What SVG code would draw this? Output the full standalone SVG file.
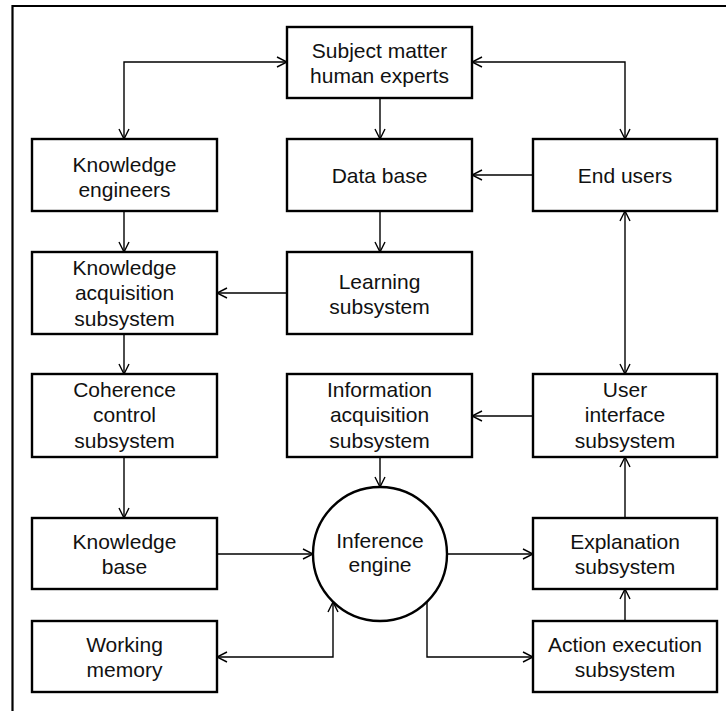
<svg xmlns="http://www.w3.org/2000/svg" width="726" height="711" viewBox="0 0 726 711">
  <style>
    .box { fill: #ffffff; stroke: #000000; stroke-width: 2.4; }
    .lbl { font-family: "Liberation Sans", Arial, Helvetica, sans-serif; font-size: 21px; fill: #111111; text-anchor: middle; }
    .wire { fill: none; stroke: #000000; stroke-width: 1.4; }
    .frame { fill: none; stroke: #000000; stroke-width: 2.2; }
  </style>
  <defs>
    <marker id="arrow" viewBox="0 0 12 12" refX="11" refY="6" markerWidth="12" markerHeight="12" markerUnits="userSpaceOnUse" orient="auto-start-reverse">
      <path d="M1,1 L11,6 L1,11" fill="none" stroke="#000000" stroke-width="1.4"/>
    </marker>
  </defs>
  <rect width="726" height="711" fill="#ffffff"/>

  <!-- outer frame (top and left edges) -->
  <path class="frame" d="M12.5,711 V6 H726"/>

  <!-- connectors -->
  <g id="connectors">
    <path class="wire" d="M287,62 H124 V139" marker-start="url(#arrow)" marker-end="url(#arrow)"/>
    <path class="wire" d="M472,62 H625 V139" marker-start="url(#arrow)" marker-end="url(#arrow)"/>
    <path class="wire" d="M380,98 V139" marker-end="url(#arrow)"/>
    <path class="wire" d="M533,175 H472" marker-end="url(#arrow)"/>
    <path class="wire" d="M124,211 V252" marker-end="url(#arrow)"/>
    <path class="wire" d="M380,211 V252" marker-end="url(#arrow)"/>
    <path class="wire" d="M287,293 H217" marker-end="url(#arrow)"/>
    <path class="wire" d="M625,211 V374" marker-start="url(#arrow)" marker-end="url(#arrow)"/>
    <path class="wire" d="M124,334 V374" marker-end="url(#arrow)"/>
    <path class="wire" d="M533,416 H472" marker-end="url(#arrow)"/>
    <path class="wire" d="M124,457 V518" marker-end="url(#arrow)"/>
    <path class="wire" d="M380,457 V487" marker-end="url(#arrow)"/>
    <path class="wire" d="M217,554 H313" marker-end="url(#arrow)"/>
    <path class="wire" d="M625,518 V457" marker-end="url(#arrow)"/>
    <path class="wire" d="M447,554 H533" marker-end="url(#arrow)"/>
    <path class="wire" d="M625,621 V589" marker-end="url(#arrow)"/>
    <path class="wire" d="M217,657 H333 V602" marker-start="url(#arrow)" marker-end="url(#arrow)"/>
    <path class="wire" d="M427,602 V657 H533" marker-end="url(#arrow)"/>
  </g>

  <!-- nodes -->
  <g id="subject-experts">
    <rect class="box" x="287" y="27" width="185" height="71"/>
    <text class="lbl" x="379.5" y="58">Subject matter</text>
    <text class="lbl" x="379.5" y="83">human experts</text>
  </g>
  <g id="knowledge-engineers">
    <rect class="box" x="32" y="139" width="185" height="72"/>
    <text class="lbl" x="124.5" y="171.5">Knowledge</text>
    <text class="lbl" x="124.5" y="196.5">engineers</text>
  </g>
  <g id="data-base">
    <rect class="box" x="287" y="139" width="185" height="72"/>
    <text class="lbl" x="379.5" y="182.5">Data base</text>
  </g>
  <g id="end-users">
    <rect class="box" x="533" y="139" width="184" height="72"/>
    <text class="lbl" x="625" y="182.5">End users</text>
  </g>
  <g id="knowledge-acquisition">
    <rect class="box" x="32" y="252" width="185" height="82"/>
    <text class="lbl" x="124.5" y="274.5">Knowledge</text>
    <text class="lbl" x="124.5" y="300">acquisition</text>
    <text class="lbl" x="124.5" y="325.5">subsystem</text>
  </g>
  <g id="learning">
    <rect class="box" x="287" y="252" width="185" height="82"/>
    <text class="lbl" x="379.5" y="288.5">Learning</text>
    <text class="lbl" x="379.5" y="313.5">subsystem</text>
  </g>
  <g id="coherence-control">
    <rect class="box" x="32" y="374" width="185" height="83"/>
    <text class="lbl" x="124.5" y="396.5">Coherence</text>
    <text class="lbl" x="124.5" y="422">control</text>
    <text class="lbl" x="124.5" y="447.5">subsystem</text>
  </g>
  <g id="information-acquisition">
    <rect class="box" x="287" y="374" width="185" height="83"/>
    <text class="lbl" x="379.5" y="396.5">Information</text>
    <text class="lbl" x="379.5" y="422">acquisition</text>
    <text class="lbl" x="379.5" y="447.5">subsystem</text>
  </g>
  <g id="user-interface">
    <rect class="box" x="533" y="374" width="184" height="83"/>
    <text class="lbl" x="625" y="396.5">User</text>
    <text class="lbl" x="625" y="422">interface</text>
    <text class="lbl" x="625" y="447.5">subsystem</text>
  </g>
  <g id="knowledge-base">
    <rect class="box" x="32" y="518" width="185" height="71"/>
    <text class="lbl" x="124.5" y="549">Knowledge</text>
    <text class="lbl" x="124.5" y="574">base</text>
  </g>
  <g id="inference-engine">
    <circle class="box" cx="380" cy="554" r="67"/>
    <text class="lbl" x="380" y="548">Inference</text>
    <text class="lbl" x="380" y="572">engine</text>
  </g>
  <g id="explanation">
    <rect class="box" x="533" y="518" width="184" height="71"/>
    <text class="lbl" x="625" y="549">Explanation</text>
    <text class="lbl" x="625" y="574">subsystem</text>
  </g>
  <g id="working-memory">
    <rect class="box" x="32" y="621" width="185" height="71"/>
    <text class="lbl" x="124.5" y="652">Working</text>
    <text class="lbl" x="124.5" y="677">memory</text>
  </g>
  <g id="action-execution">
    <rect class="box" x="533" y="621" width="184" height="71"/>
    <text class="lbl" x="625" y="652">Action execution</text>
    <text class="lbl" x="625" y="677">subsystem</text>
  </g>
</svg>
